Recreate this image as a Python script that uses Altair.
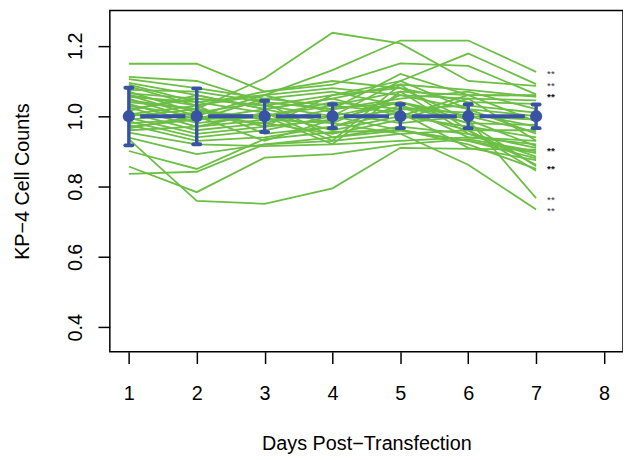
import altair as alt
import pandas as pd

days = [1, 2, 3, 4, 5, 6, 7]
x_ticks = [1, 2, 3, 4, 5, 6, 7, 8]
y_ticks = [0.4, 0.6, 0.8, 1.0, 1.2]

# control mean and error bars (normalised)
mean_vals = [1.0, 1.0, 1.0, 1.0, 1.0, 1.0, 1.0]
err_hi = [1.081, 1.079, 1.044, 1.034, 1.034, 1.034, 1.033]
err_lo = [0.917, 0.920, 0.955, 0.966, 0.966, 0.966, 0.966]

# individual knock-down curves (days 1..7)
curves = [
    [1.040, 1.020, 1.108, 1.237, 1.207, 1.100, 1.086],
    [1.060, 1.030, 1.060, 1.131, 1.215, 1.215, 1.126],
    [1.020, 1.050, 1.030, 1.060, 1.100, 1.178, 1.091],
    [1.149, 1.149, 1.070, 1.090, 1.150, 1.143, 1.062],
    [1.112, 1.100, 1.040, 1.020, 1.120, 1.060, 1.060],
    [0.857, 0.784, 0.882, 0.892, 0.920, 0.935, 0.900],
    [0.935, 0.759, 0.751, 0.795, 0.910, 0.907, 0.905],
    [0.836, 0.842, 0.920, 0.940, 0.960, 0.920, 0.850],
    [0.901, 0.850, 0.935, 0.955, 0.960, 0.930, 0.880],
    [0.939, 0.892, 0.920, 0.930, 0.950, 0.960, 0.862],
    [1.000, 1.020, 0.990, 1.000, 1.040, 0.990, 0.767],
    [0.970, 0.990, 1.020, 0.980, 0.950, 0.862, 0.735],
    [1.105, 1.080, 1.050, 1.030, 1.070, 1.060, 1.058],
    [1.095, 1.060, 1.020, 1.050, 1.090, 1.075, 1.055],
    [1.090, 1.040, 1.060, 1.080, 1.060, 1.050, 1.045],
    [1.085, 1.030, 1.070, 1.100, 1.080, 1.040, 1.035],
    [1.075, 1.070, 1.040, 1.020, 1.050, 1.070, 1.020],
    [1.070, 1.010, 1.000, 1.040, 1.020, 1.030, 1.010],
    [1.065, 1.050, 1.030, 1.000, 1.100, 1.020, 1.000],
    [1.060, 1.000, 0.980, 1.020, 1.040, 1.000, 0.990],
    [1.055, 1.040, 1.010, 0.960, 1.000, 1.060, 0.985],
    [1.050, 0.990, 1.050, 1.070, 1.030, 0.980, 0.975],
    [1.045, 1.020, 0.970, 0.990, 1.020, 1.010, 0.970],
    [1.035, 0.980, 1.000, 1.030, 1.010, 0.960, 0.960],
    [1.030, 1.000, 1.060, 1.010, 0.980, 1.000, 0.955],
    [1.025, 0.970, 0.990, 0.980, 1.060, 1.020, 0.950],
    [1.015, 1.060, 1.020, 1.050, 1.000, 0.970, 0.940],
    [1.010, 0.960, 0.980, 0.950, 0.990, 1.050, 0.930],
    [1.005, 1.030, 0.950, 0.970, 1.030, 0.940, 0.920],
    [0.995, 0.950, 0.970, 1.060, 1.080, 0.990, 0.915],
    [0.990, 1.010, 1.040, 0.940, 0.970, 0.950, 0.910],
    [0.985, 0.940, 0.960, 1.000, 0.960, 0.930, 0.895],
    [0.980, 0.990, 1.000, 0.920, 1.070, 0.950, 0.885],
    [0.975, 0.930, 0.940, 0.970, 1.010, 0.910, 0.875],
    [0.965, 1.000, 0.930, 0.990, 1.040, 0.980, 0.858],
    [0.960, 0.970, 1.010, 0.930, 1.090, 0.960, 0.845],
    [0.953, 0.920, 0.915, 0.920, 0.930, 0.940, 0.930],
]

# significance markers at day 7: single and (overprinted) double markers
star_single = [1.126, 1.091, 0.767, 0.735]
star_double = [1.060, 0.907, 0.854]
star_day = 7

GREEN = "#6CBE45"
BLUE = "#3953A4"
FONT = "Liberation Sans"

line_df = pd.DataFrame(
    [{"id": i, "day": d, "value": v} for i, s in enumerate(curves) for d, v in zip(days, s)]
)
mean_df = pd.DataFrame({"day": days, "mean": mean_vals, "hi": err_hi, "lo": err_lo})
seg_df = pd.DataFrame({"d0": days[:-1], "d1": days[1:], "mean": mean_vals[:-1]})
star1_df = pd.DataFrame({"day": [star_day] * len(star_single), "value": star_single})
star2_df = pd.DataFrame({"day": [star_day] * len(star_double), "value": star_double})

xs = alt.Scale(domain=[0.72, 8.28], nice=False, zero=False)
ys = alt.Scale(domain=[0.3306, 1.3003], nice=False, zero=False)

x_axis = alt.Axis(
    values=x_ticks, format="d", grid=False, domain=False,
    tickSize=12, tickWidth=1.5, tickColor="black",
    labelFont=FONT, labelFontSize=20, labelColor="black",
    labelBaseline="alphabetic", labelPadding=36, labelFlush=False, labelOverlap=False,
    title="Days Post\u2212Transfection", titleFont=FONT, titleFontSize=20,
    titleFontWeight="normal", titleColor="black",
    titleBaseline="alphabetic", titleAlign="center", titleX=259.5, titleY=99,
)
y_axis = alt.Axis(
    values=y_ticks, format=".1f", grid=False, domain=False,
    tickSize=12, tickWidth=1.5, tickColor="black",
    labelFont=FONT, labelFontSize=20, labelColor="black",
    labelAngle=270, labelAlign="center", labelBaseline="alphabetic",
    labelPadding=17, labelOverlap=False, labelFlush=False,
    title="KP\u22124 Cell Counts", titleFont=FONT, titleFontSize=20,
    titleFontWeight="normal", titleColor="black", titleAngle=270,
    titleBaseline="alphabetic", titleAlign="center", titleX=-82, titleY=172.5,
)

lines = alt.Chart(line_df).mark_line(color=GREEN, strokeWidth=1.8).encode(
    x=alt.X("day:Q", scale=xs, axis=x_axis),
    y=alt.Y("value:Q", scale=ys, axis=y_axis),
    detail="id:N",
)

segs = alt.Chart(seg_df).mark_rule(color=BLUE, strokeWidth=4, xOffset=11.5, x2Offset=-11.5).encode(
    x=alt.X("d0:Q", scale=xs), x2="d1:Q", y=alt.Y("mean:Q", scale=ys)
)
bars = alt.Chart(mean_df).mark_rule(color=BLUE, strokeWidth=3.5).encode(
    x=alt.X("day:Q", scale=xs), y=alt.Y("lo:Q", scale=ys), y2="hi:Q"
)
cap_hi = alt.Chart(mean_df).mark_rule(color=BLUE, strokeWidth=4, strokeCap="round", xOffset=-3.5, x2Offset=3.5).encode(
    x=alt.X("day:Q", scale=xs), x2="day:Q", y=alt.Y("hi:Q", scale=ys)
)
cap_lo = alt.Chart(mean_df).mark_rule(color=BLUE, strokeWidth=4, strokeCap="round", xOffset=-3.5, x2Offset=3.5).encode(
    x=alt.X("day:Q", scale=xs), x2="day:Q", y=alt.Y("lo:Q", scale=ys)
)
pts = alt.Chart(mean_df).mark_circle(color=BLUE, size=150, opacity=1).encode(
    x=alt.X("day:Q", scale=xs), y=alt.Y("mean:Q", scale=ys)
)
stars1 = alt.Chart(star1_df).mark_text(text="**", dx=15, dy=2, fontSize=10, color="#333333", font=FONT, baseline="middle").encode(
    x=alt.X("day:Q", scale=xs), y=alt.Y("value:Q", scale=ys)
)
stars2 = alt.Chart(star2_df).mark_text(text="**", dx=15, dy=2, fontSize=10, fontWeight="bold", color="#111111", font=FONT, baseline="middle").encode(
    x=alt.X("day:Q", scale=xs), y=alt.Y("value:Q", scale=ys)
)

chart = alt.layer(lines, segs, bars, cap_hi, cap_lo, pts, stars1, stars2).properties(
    width=519, height=345,
    autosize=alt.AutoSizeParams(type="none"),
    padding={"left": 103, "top": 0, "right": 0, "bottom": 106},
).configure_view(stroke="black", strokeWidth=1.5)

chart.save("out.html", embed_options={"renderer": "svg", "actions": False})
